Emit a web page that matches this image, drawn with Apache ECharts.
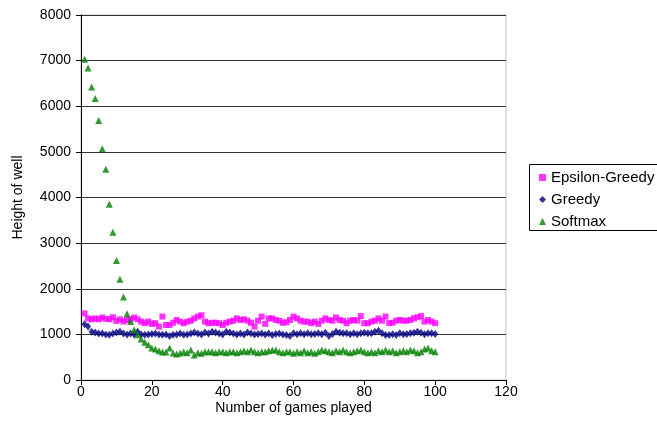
<!DOCTYPE html>
<html>
<head>
<meta charset="utf-8">
<script src="https://cdn.jsdelivr.net/npm/echarts@6/dist/echarts.min.js"></script>
<style>
  html, body { margin: 0; padding: 0; background: #fff; }
  #chart { width: 657px; height: 442px; }
</style>
</head>
<body>
<div id="chart"></div>
<script>
// Games 1..100
const games = Array.from({ length: 100 }, (_, i) => i + 1);

const epsilonGreedy = [
  1460, 1350, 1330, 1350, 1330, 1370, 1340, 1330, 1375, 1295,
  1330, 1280, 1315, 1330, 1370, 1330, 1280, 1245, 1280, 1230,
  1245, 1170, 1390, 1205, 1205, 1255, 1315, 1280, 1245, 1280,
  1300, 1350, 1390, 1420, 1280, 1245, 1255, 1255, 1245, 1205,
  1255, 1280, 1300, 1350, 1315, 1330, 1300, 1255, 1170, 1300,
  1390, 1230, 1350, 1350, 1315, 1300, 1255, 1265, 1316, 1390,
  1350, 1300, 1280, 1280, 1245, 1280, 1230, 1300, 1350, 1316,
  1300, 1370, 1316, 1300, 1245, 1300, 1316, 1300, 1400, 1245,
  1245, 1280, 1300, 1350, 1300, 1390, 1250, 1255, 1300, 1316,
  1300, 1300, 1316, 1350, 1375, 1400, 1280, 1316, 1280, 1245
];

const greedy = [
  1220, 1170, 1060, 1040, 1020, 1020, 1000, 990, 1020, 1040,
  1060, 1020, 1000, 1020, 1000, 1060, 1000, 990, 1000, 1010,
  1020, 1000, 990, 1000, 965, 990, 1000, 1020, 990, 1000,
  1020, 1040, 1020, 1000, 1040, 1020, 1060, 1040, 1020, 1000,
  1060, 1040, 1020, 1000, 1020, 1000, 1040, 1020, 1000, 1010,
  1020, 1000, 1020, 987, 1010, 1020, 1000, 987, 965, 1023,
  1001, 1023, 1001, 1023, 1001, 1010, 1023, 1001, 1038, 965,
  1010, 1060, 1038, 1023, 1023, 1001, 1023, 1001, 1023, 1038,
  1023, 1023, 1060, 1080, 1023, 987, 987, 1001, 987, 1023,
  1001, 1010, 1023, 1038, 1060, 1038, 1001, 1023, 1023, 1010
];

const softmax = [
  7030, 6840, 6420, 6170, 5690, 5070, 4620, 3850, 3240, 2620,
  2210, 1820, 1450, 1280, 1100, 990, 900, 830, 770, 700,
  680, 640, 615, 615, 700, 590, 570, 590, 615, 599,
  658, 548, 599, 585, 621, 621, 621, 599, 621, 621,
  599, 621, 621, 599, 621, 640, 621, 658, 621, 599,
  621, 621, 640, 658, 658, 621, 599, 621, 621, 585,
  621, 599, 640, 599, 621, 585, 621, 658, 640, 621,
  599, 640, 621, 658, 621, 599, 621, 640, 658, 621,
  599, 621, 599, 640, 621, 658, 621, 640, 599, 621,
  640, 621, 658, 640, 599, 621, 680, 699, 640, 621
];

const xTicks = { min: 0, max: 120, step: 20 };
const yTicks = { min: 0, max: 8000, step: 1000 };

const FONT = '"Liberation Sans", Arial, sans-serif';

const pairs = (ys) => games.map((g, i) => [g, ys[i]]);

const chart = echarts.init(document.getElementById('chart'), null, { renderer: 'canvas' });

chart.setOption({
  animation: false,
  backgroundColor: '#ffffff',
  grid: {
    left: 81, top: 15, right: 151, bottom: 62,
    show: true, borderColor: '#c0c0c0', borderWidth: 1,
    backgroundColor: 'transparent'
  },
  xAxis: {
    type: 'value',
    min: xTicks.min, max: xTicks.max, interval: xTicks.step,
    name: 'Number of games played',
    nameLocation: 'middle',
    nameGap: 21,
    nameMoveOverlap: false,
    nameTextStyle: { fontFamily: FONT, fontSize: 14, color: '#000' },
    axisLine: { show: true, onZero: false, lineStyle: { color: '#000', width: 1 } },
    axisTick: { show: true, inside: false, length: 5, lineStyle: { color: '#000' } },
    axisLabel: { fontFamily: FONT, fontSize: 14, color: '#000', margin: 5 },
    splitLine: { show: false }
  },
  yAxis: {
    type: 'value',
    min: yTicks.min, max: yTicks.max, interval: yTicks.step,
    name: 'Height of well',
    nameLocation: 'middle',
    nameGap: 56,
    nameMoveOverlap: false,
    nameTextStyle: { fontFamily: FONT, fontSize: 14, color: '#000' },
    axisLine: { show: true, lineStyle: { color: '#000', width: 1 } },
    axisTick: { show: true, inside: false, length: 5, lineStyle: { color: '#000' } },
    axisLabel: {
      fontFamily: FONT, fontSize: 14, color: '#000', margin: 10,
      formatter: (v) => String(v)
    },
    splitLine: { show: true, lineStyle: { color: '#333', width: 1 } }
  },
  legend: {
    orient: 'vertical',
    left: 534, top: 165,
    itemWidth: 7, itemHeight: 7,
    itemGap: 7,
    textStyle: { fontFamily: FONT, fontSize: 15, color: '#000', padding: [0, 0, 0, 0] },
    data: [
      { name: 'Epsilon-Greedy', icon: 'rect' },
      { name: 'Greedy', icon: 'diamond' },
      { name: 'Softmax', icon: 'triangle' }
    ]
  },
  graphic: [{
    type: 'rect',
    shape: { x: 529.5, y: 164.5, width: 140, height: 66 },
    style: { fill: 'none', stroke: '#000', lineWidth: 1 },
    silent: true
  }],
  series: [
    {
      name: 'Epsilon-Greedy', type: 'scatter',
      symbol: 'rect', symbolSize: 6,
      itemStyle: { color: '#ff00ff' },
      data: pairs(epsilonGreedy)
    },
    {
      name: 'Greedy', type: 'scatter',
      symbol: 'diamond', symbolSize: [6, 8],
      itemStyle: { color: '#000080' },
      data: pairs(greedy)
    },
    {
      name: 'Softmax', type: 'scatter',
      symbol: 'triangle', symbolSize: 7,
      itemStyle: { color: '#008000' },
      data: pairs(softmax)
    }
  ]
});
</script>
</body>
</html>
